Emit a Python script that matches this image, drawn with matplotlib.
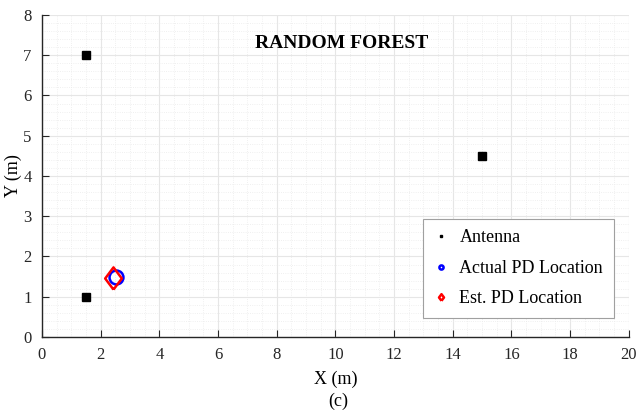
import matplotlib.pyplot as plt
from matplotlib.ticker import MultipleLocator

plt.rcParams['font.family'] = ['Liberation Serif', 'DejaVu Serif']

# antenna positions
antenna_x = [1.5, 15, 1.5]
antenna_y = [7, 4.5, 1]

# actual and estimated PD location
actual_x = [2.52]
actual_y = [1.50]
est_x = [2.43]
est_y = [1.47]

# diamond a bit narrower than tall
diamond = [(0, -1), (0.75, 0), (0, 1), (-0.75, 0), (0, -1)]

fig = plt.figure(figsize=(6.41, 4.17), dpi=100)
ax = fig.add_axes([0.0655, 0.192, 0.9155, 0.772])

ax.plot(antenna_x, antenna_y, 's', color='black', markersize=5.5, label='Antenna')
ax.plot(actual_x, actual_y, 'o', color='blue', markerfacecolor='none',
        markersize=10, markeredgewidth=1.8, label='Actual PD Location')
ax.plot(est_x, est_y, marker=diamond, linestyle='none', color='red',
        markerfacecolor='none', markersize=16, markeredgewidth=1.8,
        label='Est. PD Location')

ax.set_xlim(0, 20)
ax.set_ylim(0, 8)
ax.xaxis.set_major_locator(MultipleLocator(2))
ax.xaxis.set_minor_locator(MultipleLocator(0.5))
ax.yaxis.set_major_locator(MultipleLocator(1))
ax.yaxis.set_minor_locator(MultipleLocator(0.2))

ax.grid(True, which='major', color='#e6e6e6', linewidth=0.8)
ax.grid(True, which='minor', color='#ebebeb', linestyle=':', linewidth=0.6)
ax.set_axisbelow(True)

for side in ['top', 'right']:
    ax.spines[side].set_visible(False)
for side in ['left', 'bottom']:
    ax.spines[side].set_color('#262626')
    ax.spines[side].set_linewidth(1.0)

ax.tick_params(which='major', direction='in', length=5, labelsize=12,
               colors='#262626', pad=7.5)
ax.tick_params(which='minor', length=0)

ax.set_xlabel('X (m)', fontsize=13, labelpad=5.5)
ax.set_ylabel('Y (m)', fontsize=13, va='center')
ax.yaxis.set_label_coords(-0.048, 0.5)

ax.text(10.2, 7.3, 'RANDOM FOREST', fontsize=14, fontweight='bold',
        ha='center', va='center')

leg = ax.legend(loc='lower right', bbox_to_anchor=(0.99, 0.03), fontsize=13,
                fancybox=False, framealpha=1, edgecolor='#a0a0a0',
                markerscale=0.3, handlelength=0.8, handletextpad=0.6,
                labelspacing=0.75, borderpad=0.6)
leg.get_frame().set_linewidth(0.8)

fig.text(0.527, 0.038, '(c)', fontsize=13, ha='center', va='center')

fig.savefig('out.png', dpi=100)
